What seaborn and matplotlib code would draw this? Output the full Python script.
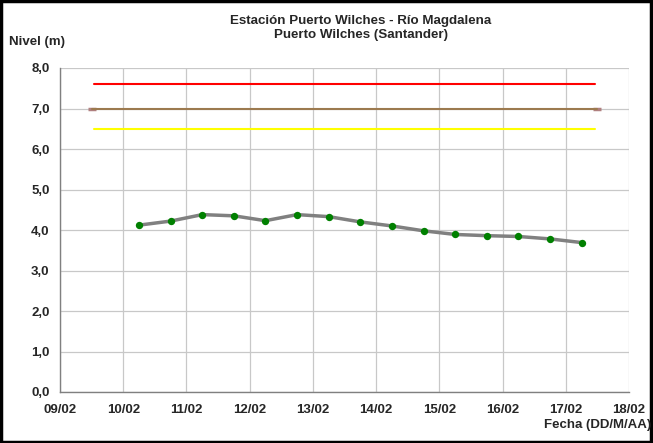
import numpy as np
import pandas as pd
import matplotlib
matplotlib.use("Agg")
import matplotlib.pyplot as plt
import matplotlib.dates as mdates
import seaborn as sns

# ---- data ----
fechas = pd.date_range("2011-02-10 06:00", "2011-02-17 06:00", freq="12h")
nivel = [4.12, 4.22, 4.38, 4.35, 4.23, 4.38, 4.33, 4.20, 4.10, 3.98,
         3.89, 3.86, 3.84, 3.78, 3.69]

umbral_nombres = ["Roja", "Cota", "Amarilla"]
umbral_valores = [7.6, 7.0, 6.5]
umbral_inicio = ["2011-02-09 13:00", "2011-02-09 12:00", "2011-02-09 13:00"]
umbral_fin = ["2011-02-17 11:00", "2011-02-17 12:00", "2011-02-17 11:00"]
umbral_colores = ["#ff0000", "#9c7a4f", "#ffff00"]

x_ticks = pd.date_range("2011-02-09", "2011-02-18", freq="D")
y_ticks = [0, 1, 2, 3, 4, 5, 6, 7, 8]

titulo = "Estación Puerto Wilches - Río Magdalena\nPuerto Wilches (Santander)"
ylab = "Nivel (m)"
xlab = "Fecha (DD/M/AA)"

# ---- style ----
sns.set_style("white")
plt.rcParams["font.family"] = ["Liberation Sans", "DejaVu Sans"]
plt.rcParams["font.weight"] = "bold"

fig = plt.figure(figsize=(6.53, 4.43), dpi=100)
ax = fig.add_axes([60/653, 1-392/443, (629-60)/653, (392-68)/443])

# threshold lines
rows = []
for n, v, a, b in zip(umbral_nombres, umbral_valores, umbral_inicio, umbral_fin):
    rows.append({"fecha": pd.Timestamp(a), "nivel": v, "umbral": n})
    rows.append({"fecha": pd.Timestamp(b), "nivel": v, "umbral": n})
df_u = pd.DataFrame(rows)
sns.lineplot(data=df_u, x="fecha", y="nivel", hue="umbral",
             palette=dict(zip(umbral_nombres, umbral_colores)),
             linewidth=1.5, legend=False, ax=ax, zorder=3)
# end markers of the brown line
cota = df_u[df_u["umbral"] == "Cota"]
ax.plot(cota["fecha"], cota["nivel"], linestyle="none", marker="_",
        markersize=6, markeredgewidth=2.5, color="#b08080", zorder=2)

# series
df = pd.DataFrame({"fecha": fechas, "nivel": nivel})
sns.lineplot(data=df, x="fecha", y="nivel", color="#808080", linewidth=2.5,
             ax=ax, zorder=4)
sns.scatterplot(data=df, x="fecha", y="nivel", color="#008000", s=28,
                edgecolor="#008000", linewidth=0, ax=ax, zorder=5)

ax.set_xlim(x_ticks[0], x_ticks[-1])
ax.set_ylim(0, 8)
ax.set_xticks(x_ticks)
ax.xaxis.set_major_formatter(mdates.DateFormatter("%d/%m"))
ax.set_yticks(y_ticks)
ax.set_yticklabels([f"{v:.1f}".replace(".", ",") for v in y_ticks])
ax.grid(True, color="#c8c8c8", linewidth=0.9)
ax.set_axisbelow(True)
for s in ["top", "right"]:
    ax.spines[s].set_visible(False)
for s in ["left", "bottom"]:
    ax.spines[s].set_color("#808080")
    ax.spines[s].set_linewidth(1.0)
ax.tick_params(axis="both", which="major", length=5, width=1, color="#808080",
               labelsize=9.5, direction="inout")
for lab in ax.get_xticklabels() + ax.get_yticklabels():
    lab.set_fontweight("bold")
ax.tick_params(axis="x", pad=6)
ax.tick_params(axis="y", pad=5)
ax.set_xlabel("")
ax.set_ylabel("")

fig.text(361/653, 1-28/443, titulo, ha="center", va="center",
         fontsize=9.6, fontweight="bold", linespacing=1.25)
fig.text(9/653, 1-42/443, ylab, ha="left", va="center",
         fontsize=9.5, fontweight="bold")
fig.text(651/653, 1-425/443, xlab, ha="right", va="center",
         fontsize=9.5, fontweight="bold")

# figure border
fig.patches.append(plt.Rectangle((0.002, 0.003), 0.995, 0.994,
                                 transform=fig.transFigure, fill=False,
                                 edgecolor="black", linewidth=2.5))

fig.savefig("out.png", dpi=100)
